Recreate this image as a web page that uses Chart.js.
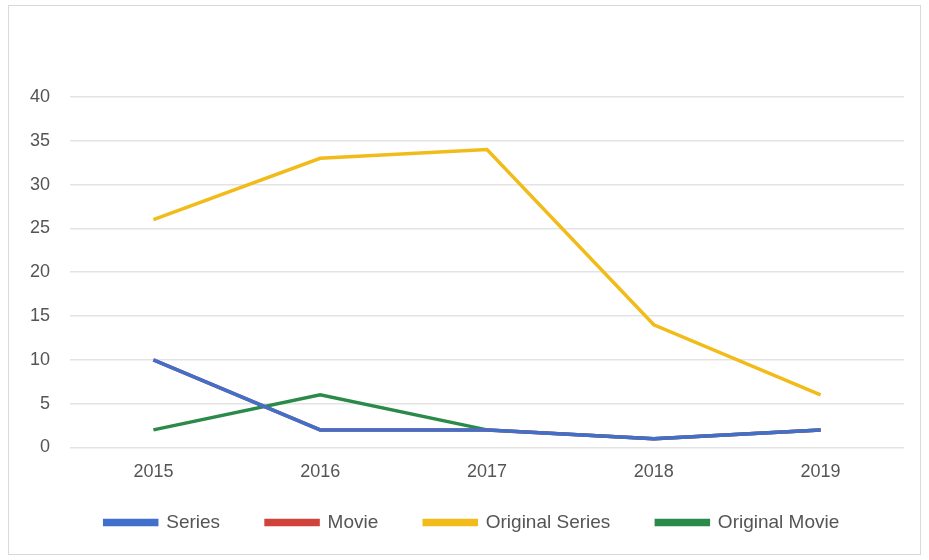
<!DOCTYPE html>
<html>
<head>
<meta charset="utf-8">
<script src="https://cdn.jsdelivr.net/npm/chart.js@4/dist/chart.umd.min.js"></script>
<style>
  html, body { margin: 0; padding: 0; background: #fff; }
  #wrap { position: relative; width: 929px; height: 560px; }
</style>
</head>
<body>
<div id="wrap"><canvas id="c" width="929" height="560"></canvas></div>
<script>
// data
const years = ['2015', '2016', '2017', '2018', '2019'];
const series = [10, 2, 2, 1, 2];
const movie = [10, 2, 2, 1, 2];          // hidden under the blue line
const originalSeries = [26, 33, 34, 14, 6];
const originalMovie = [2, 6, 2, 1, 2];
const yTicks = [0, 5, 10, 15, 20, 25, 30, 35, 40];

const txt = '#555';
const font = { family: '"Liberation Sans", Arial, sans-serif', size: 18 };

// white page + thin grey frame
const frame = {
  id: 'frame',
  beforeDraw(chart) {
    const c = chart.ctx;
    c.save();
    c.fillStyle = '#fff';
    c.fillRect(0, 0, chart.width, chart.height);
    c.strokeStyle = '#d9d9d9';
    c.lineWidth = 1;
    c.strokeRect(8.5, 5.5, 912, 549);
    c.restore();
  }
};

// nudge the legend box: a bit right and up
const legendShift = {
  id: 'legendShift',
  afterLayout(chart) {
    const l = chart.legend;
    l.left += 20; l.right += 20;
    l.top -= 30; l.bottom -= 30;
  }
};

new Chart(document.getElementById('c'), {
  type: 'line',
  data: {
    labels: years,
    datasets: [
      { label: 'Series', data: series, borderColor: '#4170cc', backgroundColor: '#4170cc' },
      { label: 'Movie', data: movie, borderColor: '#d0433a', backgroundColor: '#d0433a' },
      { label: 'Original Series', data: originalSeries, borderColor: '#f1bc1a', backgroundColor: '#f1bc1a' },
      { label: 'Original Movie', data: originalMovie, borderColor: '#2a8a4a', backgroundColor: '#2a8a4a' }
    ].map(d => Object.assign(d, { borderWidth: 3.5, pointRadius: 0, tension: 0 }))
  },
  options: {
    responsive: false,
    animation: false,
    layout: { padding: { top: 97, right: 25, bottom: -12, left: 0 } },
    plugins: {
      tooltip: { enabled: false },
      legend: {
        position: 'bottom',
        labels: { color: txt, font: { family: font.family, size: 19 }, boxWidth: 52, boxHeight: 4, padding: 46 }
      }
    },
    scales: {
      x: {
        offset: true,
        grid: { display: false, drawTicks: false },
        border: { display: false },
        ticks: { color: txt, font: font, padding: 14 }
      },
      y: {
        min: 0,
        max: 40,
        afterFit(s) { s.width = 70; },
        afterBuildTicks(s) { s.ticks = yTicks.map(v => ({ value: v })); },
        grid: { color: '#e3e3e3', lineWidth: 1.5, drawTicks: false },
        border: { display: false },
        ticks: { color: txt, font: font, padding: 20 }
      }
    }
  },
  plugins: [frame, legendShift]
});
</script>
</body>
</html>
